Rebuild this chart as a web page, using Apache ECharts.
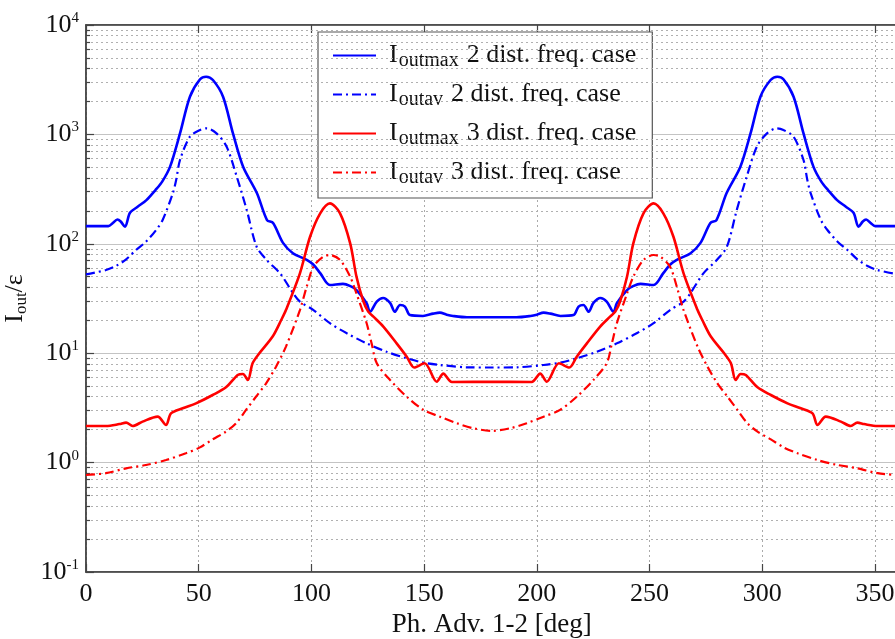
<!DOCTYPE html>
<html><head><meta charset="utf-8">
<script src="https://cdn.jsdelivr.net/npm/echarts@6/dist/echarts.min.js"></script>
<style>html,body{margin:0;padding:0;background:#fff}#c{width:895px;height:639px}</style>
</head><body><div id="c"></div>
<script>
// ---- data ----
const phaseBlueMax = [0, 9.9, 11.9, 13.9, 15.4, 17.3, 19.5, 22.9, 26.8, 30.8, 33.8, 37.3, 41.7, 46.1, 50.6, 53.3, 56.3, 60.8, 65.2, 69.7, 75.8, 80.3, 83, 87.4, 91.8, 98.1, 100.7, 103.9, 108.2, 114, 117.3, 120, 124.5, 126, 129, 131.8, 134.9, 137, 139.3, 141.5, 143.7, 149.5, 154, 157, 160, 162.8, 169, 180,
  191, 197.2, 200, 203, 206, 210.5, 216.3, 218.5, 220.7, 223, 225.1, 228.2, 231, 234, 235.5, 240, 242.7, 246, 251.8, 256.1, 259.3, 261.9, 268.2, 272.6, 277, 279.7, 284.2, 290.3, 294.8, 299.2, 303.7, 306.7, 309.4, 313.9, 318.3, 322.7, 326.2, 329.2, 333.2, 337.1, 340.5, 342.7, 344.6, 346.1, 348.1, 350.1, 360];
const valBlueMax = [145, 145, 155, 167, 160, 143, 192, 218, 251, 310, 370, 507, 1020, 2210, 3190, 3370, 3140, 2210, 1020, 507, 291, 165, 155, 102, 82, 71, 65, 54, 42, 43, 41, 37.8, 28.6, 23.9, 29.6, 32, 28.8, 23.9, 27.6, 26.7, 22.3, 21.9, 23.0, 23.5, 22.5, 21.9, 21.3, 21.3,
  21.3, 21.9, 22.5, 23.5, 23.0, 21.9, 22.3, 26.7, 27.6, 23.9, 28.8, 32, 29.6, 23.9, 28.6, 37.8, 41, 43, 42, 54, 65, 71, 82, 102, 155, 165, 291, 507, 1020, 2210, 3140, 3370, 3190, 2210, 1020, 507, 370, 310, 251, 218, 192, 143, 160, 167, 155, 145, 145];

const phaseBlueAv = [0, 8.9, 13.3, 17.8, 22.2, 26.6, 31.1, 34.0, 38.5, 40.0, 41.7, 46.1, 50.6, 53.6, 57.9, 62.4, 66.9, 71.3, 75.7, 80.2, 86.1, 91.9, 94.9, 100.9, 108.2, 115.7, 124.5, 133.4, 142.3, 149.7, 157, 169, 180,
  191, 203, 210.3, 217.7, 226.6, 235.5, 244.3, 251.8, 259.1, 265.1, 268.1, 273.9, 279.8, 284.3, 288.7, 293.1, 297.6, 302.1, 306.4, 309.4, 313.9, 318.3, 320, 321.5, 326, 328.9, 333.4, 337.8, 342.2, 346.7, 351.1, 360];
const valBlueAv = [52.6, 57.6, 62.7, 72.1, 87.8, 104.5, 133.7, 165, 289, 383, 583, 953, 1097, 1137, 1023, 772, 410, 204, 94, 71, 53.7, 35.3, 29.6, 24.8, 18.8, 15.2, 12.3, 10.3, 8.98, 8.19, 7.8, 7.43, 7.4,
  7.43, 7.8, 8.19, 8.98, 10.3, 12.3, 15.2, 18.8, 24.8, 29.6, 35.3, 53.7, 71, 94, 204, 410, 772, 1023, 1137, 1097, 953, 583, 383, 289, 165, 133.7, 104.5, 87.8, 72.1, 62.7, 57.6, 52.6];

const phaseRedMax = [0, 8.9, 14.8, 17.8, 20.7, 25.1, 31.8, 35.5, 37.7, 42.9, 48.8, 56.2, 62.1, 67.3, 69.6, 71.8, 73.9, 76.9, 82.8, 86.6, 88.7, 94.9, 99.4, 103.9, 108.2, 112.7, 117.2, 120, 123, 125.2, 127.5, 131.9, 137.8, 142.3, 145.6, 150.2, 155.6, 158.5, 162.3, 180,
  197.7, 201.5, 204.4, 209.8, 214.4, 217.7, 222.2, 228.1, 232.5, 234.8, 237, 240, 242.8, 247.3, 251.8, 256.1, 260.6, 265.1, 271.3, 273.4, 277.2, 283.1, 286.1, 288.2, 290.4, 292.7, 297.9, 303.8, 311.2, 317.1, 322.3, 324.5, 328.2, 334.9, 339.3, 342.2, 345.2, 351.1, 360];
const valRedMax = [2.16, 2.16, 2.25, 2.32, 2.16, 2.37, 2.63, 2.21, 2.82, 3.14, 3.48, 4.15, 4.88, 6.32, 6.46, 5.69, 8.09, 9.98, 14.2, 20.1, 24.8, 53.7, 116, 190, 234, 190, 101, 50, 30, 24, 21.6, 17.5, 12.3, 9.29, 7.4, 8.09, 5.49, 6.5, 5.45, 5.49,
  5.45, 6.5, 5.49, 8.09, 7.4, 9.29, 12.3, 17.5, 21.6, 24, 30, 50, 101, 190, 234, 190, 116, 53.7, 24.8, 20.1, 14.2, 9.98, 8.09, 5.69, 6.46, 6.32, 4.88, 4.15, 3.48, 3.14, 2.82, 2.21, 2.63, 2.37, 2.16, 2.32, 2.25, 2.16, 2.16];

const phaseRedAv = [0, 8.8, 17.8, 26.6, 35.5, 44.3, 50.3, 56.2, 62.1, 66.6, 71, 75.4, 79.9, 84.3, 88.7, 94.9, 97.9, 100.9, 105.2, 108.2, 112.7, 117.2, 120, 124.5, 126.7, 129, 134.9, 142.3, 149.7, 157, 164.5, 171.8, 180,
  188.2, 195.5, 203, 210.3, 217.7, 225.1, 231, 233.3, 235.5, 240, 242.8, 247.3, 251.8, 254.8, 259.1, 262.1, 265.1, 271.3, 275.7, 280.1, 284.6, 289, 293.4, 297.9, 303.8, 309.7, 315.7, 324.5, 333.4, 342.2, 351.2, 360];
const valRedAv = [0.77, 0.8, 0.887, 0.95, 1.056, 1.216, 1.37, 1.63, 1.92, 2.29, 3.03, 4.0, 5.31, 7.53, 11.5, 24.8, 40.5, 61.8, 76.2, 79, 71.1, 50, 35, 18.8, 12.3, 8.09, 5.69, 4.0, 3.03, 2.63, 2.29, 2.06, 1.95,
  2.06, 2.29, 2.63, 3.03, 4.0, 5.69, 8.09, 12.3, 18.8, 35, 50, 71.1, 79, 76.2, 61.8, 40.5, 24.8, 11.5, 7.53, 5.31, 4.0, 3.03, 2.29, 1.92, 1.63, 1.37, 1.216, 1.056, 0.95, 0.887, 0.8, 0.77];

const seriesNames = ['Ioutmax 2 dist. freq. case', 'Ioutav 2 dist. freq. case', 'Ioutmax 3 dist. freq. case', 'Ioutav 3 dist. freq. case'];
const legendSubs = ['outmax', 'outav', 'outmax', 'outav'];
const legendTexts = ['2 dist. freq. case', '2 dist. freq. case', '3 dist. freq. case', '3 dist. freq. case'];
const xTicks = [0, 50, 100, 150, 200, 250, 300, 350];
const decades = [0.1, 1, 10, 100, 1000];
const minorMultipliers = [2, 3, 4, 5, 6, 7, 8, 9];

// ---- build ----
const pair = (xs, ys) => xs.map((x, i) => [x, ys[i]]);
const minorVals = [];
decades.forEach(d => minorMultipliers.forEach(m => minorVals.push(+(d * m).toPrecision(3))));

const SERIF = '"Liberation Serif", "Times New Roman", serif';
const BLUE = '#0000ff', RED = '#ff0000';
const DASHDOT = [9, 4, 2, 4];

function lineSeries(name, data, color, dashed) {
  return {
    name, type: 'line', data, symbol: 'none', showSymbol: false, smooth: 0.3,
    lineStyle: { color, width: dashed ? 2.2 : 2.6, type: dashed ? DASHDOT : 'solid' },
    itemStyle: { color }, z: 5, animation: false, silent: true
  };
}

const chart = echarts.init(document.getElementById('c'), null, { renderer: 'canvas' });
chart.setOption({
  animation: false,
  backgroundColor: '#fff',
  grid: { left: 86, top: 25, width: 811.5, height: 547, containLabel: false, outerBoundsMode: 'none',
    show: true, borderColor: '#444', borderWidth: 1.5, backgroundColor: 'transparent' },
  xAxis: [{
    type: 'value', min: 0, max: 360, interval: 50,
    name: 'Ph. Adv. 1-2 [deg]', nameLocation: 'middle', nameGap: 37,
    nameTextStyle: { fontFamily: SERIF, fontSize: 27, color: '#111' },
    axisLine: { show: true, lineStyle: { color: '#444', width: 1.5 } },
    axisTick: { show: true, inside: true, length: 8, lineStyle: { color: '#444', width: 1.2 } },
    axisLabel: { fontFamily: SERIF, fontSize: 26, color: '#111', margin: 9,
      formatter: v => (xTicks.indexOf(v) >= 0 ? String(v) : '') },
    splitLine: { show: true, lineStyle: { color: '#aaa', width: 1, type: [2, 3] } }
  }, {
    type: 'value', position: 'top', min: 0, max: 360, interval: 50,
    axisLine: { show: true, lineStyle: { color: '#444', width: 1.5 } },
    axisTick: { show: true, inside: true, length: 8, lineStyle: { color: '#444', width: 1.2 } },
    axisLabel: { show: false }, splitLine: { show: false }
  }],
  yAxis: {
    type: 'log', logBase: 10, min: 0.1, max: 10000,
    name: '{i|I}{sub|out}{i|/ε}', nameLocation: 'middle', nameGap: 43, nameRotate: 90,
    nameTextStyle: { rich: {
      i: { fontFamily: SERIF, fontSize: 26, color: '#111' },
      sub: { fontFamily: SERIF, fontSize: 17, color: '#111', padding: [12, 0, 0, 0] }
    } },
    axisLine: { show: true, lineStyle: { color: '#444', width: 1.5 } },
    axisTick: { show: true, inside: true, length: 8, lineStyle: { color: '#444', width: 1.2 } },
    axisLabel: {
      margin: 7,
      formatter: v => '{b|10}{s|' + Math.round(Math.log10(v)) + '}',
      rich: {
        b: { fontFamily: SERIF, fontSize: 26, color: '#111' },
        s: { fontFamily: SERIF, fontSize: 15, color: '#111', padding: [0, 0, 14, 0] }
      }
    },
    splitLine: { show: true, lineStyle: { color: '#c4c4c4', width: 1 } },
    minorTick: { show: false }, minorSplitLine: { show: false }
  },
  legend: {
    data: seriesNames, orient: 'vertical', left: 318, top: 32,
    backgroundColor: '#fff', borderColor: '#555', borderWidth: 1.2,
    padding: [8, 16, 10, 14], itemGap: 8, itemWidth: 43, itemHeight: 14,
    selectedMode: false,
    itemStyle: { opacity: 0, borderWidth: 0 },
    formatter: name => {
      const k = seriesNames.indexOf(name);
      return '{i|I}{sub|' + legendSubs[k] + '}{t|' + legendTexts[k] + '}';
    },
    textStyle: { rich: {
      i: { fontFamily: SERIF, fontSize: 26, lineHeight: 29, color: '#111', padding: [0, 1, 0, 8] },
      sub: { fontFamily: SERIF, fontSize: 20, lineHeight: 18, color: '#111', padding: [11, 0, 0, 0] },
      t: { fontFamily: SERIF, fontSize: 26, lineHeight: 29, color: '#111', padding: [0, 0, 0, 8] }
    } }
  },
  series: [
    {
      name: 'grid', type: 'line', data: [], symbol: 'none', silent: true, z: 1,
      markLine: {
        silent: true, symbol: 'none', animation: false, label: { show: false },
        lineStyle: { color: '#b0b0b0', width: 1, type: [2, 3] },
        data: minorVals.map(v => ({ yAxis: v }))
      }
    },
    {
      name: 'ticks', type: 'line', data: [], symbol: 'none', silent: true, z: 2,
      markLine: {
        silent: true, symbol: 'none', animation: false, label: { show: false },
        lineStyle: { color: '#444', width: 1.2, type: 'solid' },
        data: minorVals.map(v => [{ coord: [0, v] }, { coord: [1.8, v] }])
      }
    },
    lineSeries(seriesNames[0], pair(phaseBlueMax, valBlueMax), BLUE, false),
    lineSeries(seriesNames[1], pair(phaseBlueAv, valBlueAv), BLUE, true),
    lineSeries(seriesNames[2], pair(phaseRedMax, valRedMax), RED, false),
    lineSeries(seriesNames[3], pair(phaseRedAv, valRedAv), RED, true)
  ]
});
</script></body></html>
